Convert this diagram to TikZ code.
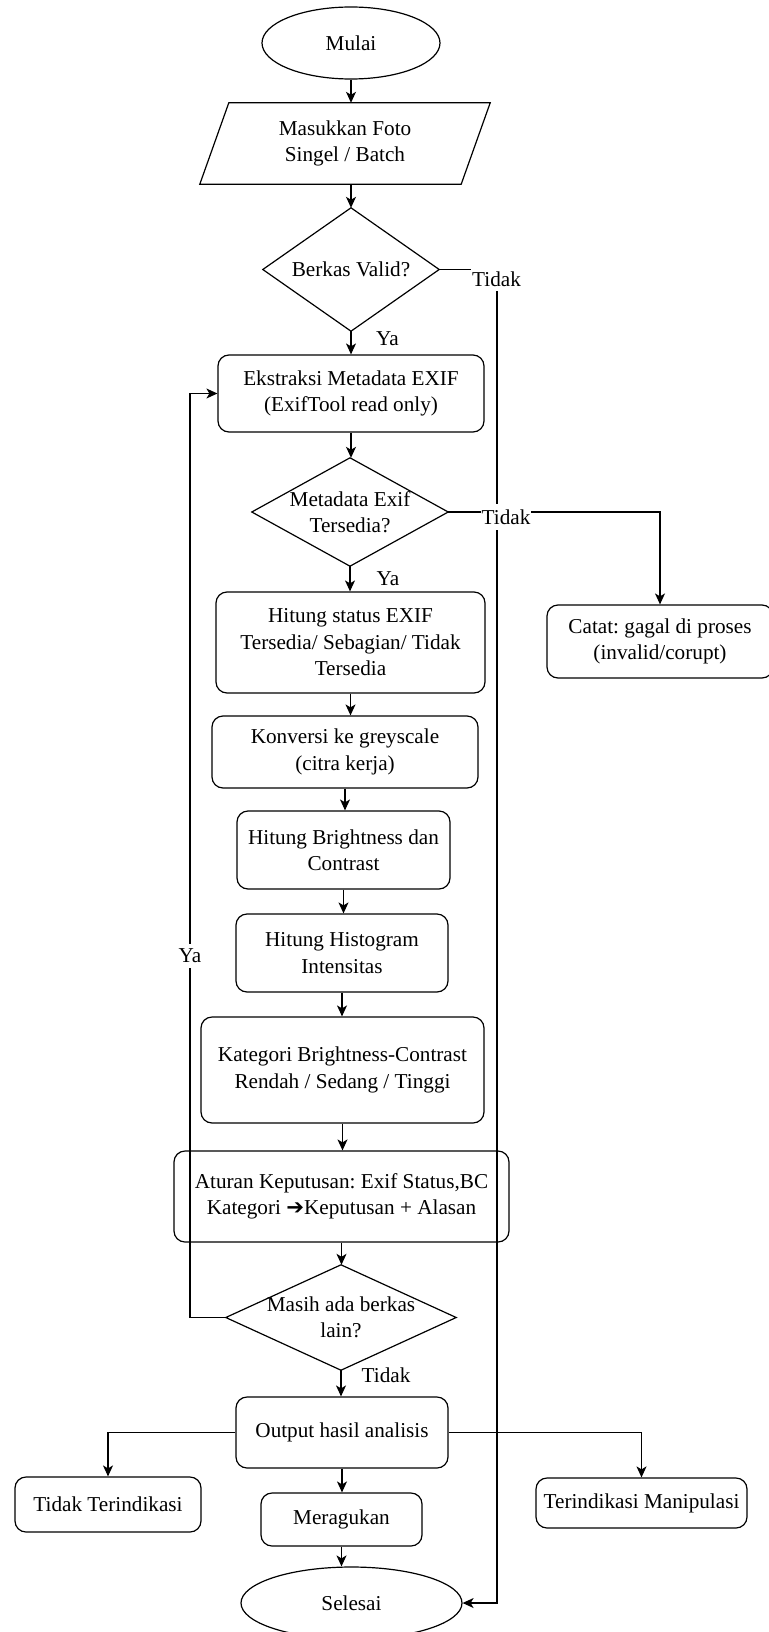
\documentclass[tikz,border=0pt]{standalone}
\usepackage{fontspec}
\setmainfont{Liberation Serif}
\newfontfamily\dejavu{DejaVu Sans}
\usetikzlibrary{shapes.geometric,arrows.meta}
\frenchspacing
\begin{document}
\begin{tikzpicture}[x=1pt,y=-1pt,
  every node/.style={font=\fontsize{21.2}{26.5}\selectfont, inner sep=0pt, align=center},
  box/.style={draw, rounded corners=11pt, line width=1.2pt},
  term/.style={draw, ellipse, line width=1.2pt},
  outline/.style={line width=1.2pt, line join=miter},
  conn/.style={line width=1.2pt, -{Stealth[length=11pt,width=10pt,inset=3pt]}},
  lbl/.style={fill=white, inner xsep=1pt, inner ysep=5pt},
]
\useasboundingbox (0,0) rectangle (768,1632);

% nodes
\node[term, minimum width=178pt, minimum height=72pt] (mulai) at (351,43) {Mulai};
\node[minimum width=290pt, minimum height=81pt] (inp) at (345,143.5) {Masukkan Foto\\Singel / Batch};
\draw[outline] ([xshift=29pt]inp.north west) -- (inp.north east) -- ([xshift=-29pt]inp.south east) -- (inp.south west) -- cycle;

\node[minimum width=176pt, minimum height=123pt] (berkas) at (351,269.5) {Berkas Valid?};
\draw[outline] (berkas.north) -- (berkas.east) -- (berkas.south) -- (berkas.west) -- cycle;

\node[box, minimum width=266pt, minimum height=77pt] (ekstr) at (351,393.5) {Ekstraksi Metadata EXIF\\(ExifTool read only)};

\node[minimum width=196pt, minimum height=108pt] (meta) at (350,512) {Metadata Exif\\Tersedia?};
\draw[outline] (meta.north) -- (meta.east) -- (meta.south) -- (meta.west) -- cycle;

\node[box, minimum width=269pt, minimum height=101pt] (hstat) at (350.5,642.5) {Hitung status EXIF\\Tersedia/ Sebagian/ Tidak\\Tersedia};
\node[box, minimum width=266pt, minimum height=72pt] (konv) at (345,752) {Konversi ke greyscale\\(citra kerja)};
\node[box, minimum width=213pt, minimum height=78pt] (bright) at (343.5,850) {Hitung Brightness dan\\Contrast};
\node[box, minimum width=212pt, minimum height=78pt] (hist) at (342,953) {Hitung Histogram\\Intensitas};
\node[box, minimum width=283pt, minimum height=106pt] (kat) at (342.5,1070) {Kategori Brightness-Contrast\\Rendah / Sedang / Tinggi};
\node[box, minimum width=335pt, minimum height=91pt] (atur) at (341.5,1196.5) {Aturan Keputusan: Exif Status,BC\\Kategori {\dejavu ➔}Keputusan + Alasan};

\node[minimum width=230pt, minimum height=105pt] (masih) at (341,1317.5) {Masih ada berkas\\lain?};
\draw[outline] (masih.north) -- (masih.east) -- (masih.south) -- (masih.west) -- cycle;

\node[box, minimum width=212pt, minimum height=71pt] (out) at (342,1432.5) {Output hasil analisis};
\node[box, minimum width=186pt, minimum height=55pt] (tdk) at (108,1504.5) {Tidak Terindikasi};
\node[box, minimum width=161pt, minimum height=53pt] (merag) at (341.5,1519.5) {Meragukan};
\node[box, minimum width=211pt, minimum height=50pt] (manip) at (641.5,1503) {Terindikasi Manipulasi};
\node[box, minimum width=226pt, minimum height=73pt] (catat) at (660,641.5) {Catat: gagal di proses\\(invalid/corupt)};
\node[term, minimum width=221pt, minimum height=72pt] (selesai) at (351.5,1603) {Selesai};

% connectors
\draw[conn] (mulai.south) -- (mulai.south |- inp.north);
\draw[conn] (berkas.north |- inp.south) -- (berkas.north);
\draw[conn] (berkas.south) -- (berkas.south |- ekstr.north);
\draw[conn] (ekstr.south) -- (ekstr.south |- meta.north);
\draw[conn] (meta.south) -- (meta.south |- hstat.north);
\draw[conn] (hstat.south) -- (hstat.south |- konv.north);
\draw[conn] (konv.south) -- (konv.south |- bright.north);
\draw[conn] (bright.south) -- (bright.south |- hist.north);
\draw[conn] (hist.south) -- (hist.south |- kat.north);
\draw[conn] (kat.south) -- (kat.south |- atur.north);
\draw[conn] (atur.south) -- (atur.south |- masih.north);
\draw[conn] (masih.south) -- (masih.south |- out.north);
\draw[conn] (out.west) -| (tdk.north);
\draw[conn] (out.east) -| (manip.north);
\draw[conn] (out.south) -- (out.south |- merag.north);
\draw[conn] (merag.south) -- (merag.south |- selesai.north);
\draw[conn] (meta.east) -| (catat.north);
\coordinate (rl) at (497,270);
\draw[conn] (berkas.east) -- (berkas.east -| rl) -- (rl |- selesai.east) -- (selesai.east);
\coordinate (ll) at (190,394);
\draw[conn] (masih.west) -- (masih.west -| ll) -- (ll |- ekstr.west) -- (ekstr.west);

% labels
\node (ya1) at (387.5,339) {Ya};
\node (ya2) at (388,578.5) {Ya};
\node[lbl] (tidak1) at (496.5,279) {Tidak};
\node[lbl, inner ysep=6pt] (tidak2) at (506,517) {Tidak};
\node[lbl] (ya3) at (190,956) {Ya};
\node (tidak3) at (386,1375) {Tidak};
\end{tikzpicture}
\end{document}
